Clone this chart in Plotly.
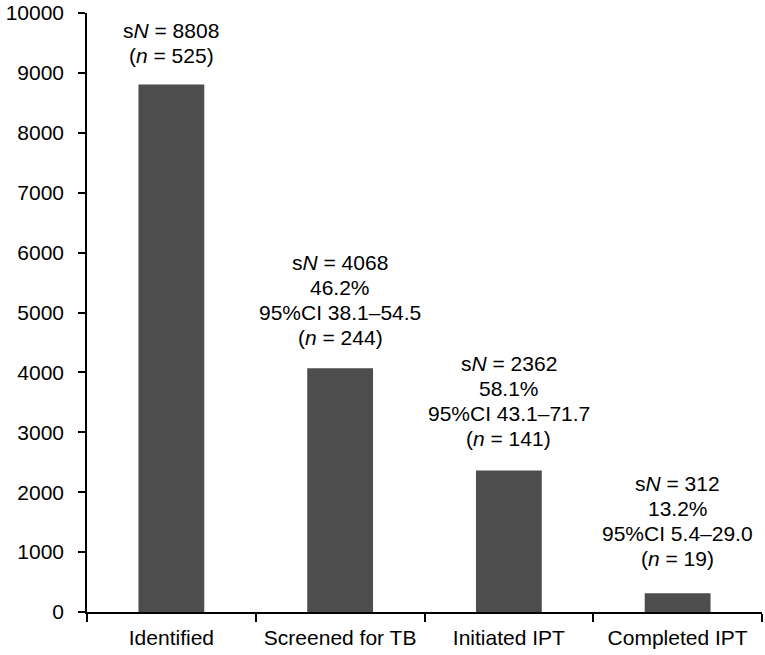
import plotly.graph_objects as go

categories = ["Identified", "Screened for TB", "Initiated IPT", "Completed IPT"]
sN_values = [8808, 4068, 2362, 312]
n_values = [525, 244, 141, 19]
percents = [None, "46.2%", "58.1%", "13.2%"]
ci_labels = [None, "95%CI 38.1–54.5", "95%CI 43.1–71.7", "95%CI 5.4–29.0"]
y_ticks = [0, 1000, 2000, 3000, 4000, 5000, 6000, 7000, 8000, 9000, 10000]

FONT = "Liberation Sans, Arial, sans-serif"
BAR = "#4d4d4d"
TXT = "#000000"

fig = go.Figure(go.Bar(x=categories, y=sN_values, marker=dict(color=BAR, line=dict(width=0)),
                       width=0.39, hoverinfo="skip"))

last_line_offset = [29, 31, 32, 35]   # px from bar top to centre of lowest label line
line_spacing = 25
for i, cat in enumerate(categories):
    lines = [f"s<i>N</i> = {sN_values[i]}"]
    if percents[i]:
        lines.append(percents[i])
    if ci_labels[i]:
        lines.append(ci_labels[i])
    lines.append(f"(<i>n</i> = {n_values[i]})")
    k = len(lines)
    for j, line in enumerate(lines):
        fig.add_annotation(x=cat, y=sN_values[i], text=line, showarrow=False,
                           xanchor="center", yanchor="middle",
                           yshift=last_line_offset[i] + (k - 1 - j) * line_spacing,
                           font=dict(family=FONT, size=21, color=TXT))

fig.update_layout(
    width=765, height=655,
    margin=dict(l=87, r=3, t=13, b=43),
    paper_bgcolor="white", plot_bgcolor="white",
    showlegend=False,
    font=dict(family=FONT, size=21, color=TXT),
)
fig.update_xaxes(
    automargin=False,
    showline=True, linecolor="black", linewidth=1.5,
    ticks="outside", tickson="boundaries", ticklen=8, tickcolor="black", tickwidth=1.5,
    showgrid=False, tickfont=dict(family=FONT, size=21, color=TXT),
    ticklabelstandoff=6,
)
fig.update_yaxes(
    automargin=False,
    range=[0, 10000], tickvals=y_ticks, ticktext=[str(v) for v in y_ticks],
    showline=True, linecolor="black", linewidth=1.5,
    ticks="outside", ticklen=7, tickcolor="black", tickwidth=1.5,
    showgrid=False, zeroline=False, tickfont=dict(family=FONT, size=21, color=TXT),
    ticklabelstandoff=10,
)

fig.write_html("out.html", config={"displayModeBar": False},
               post_script="document.body.style.margin='0';document.body.style.overflow='hidden';")
